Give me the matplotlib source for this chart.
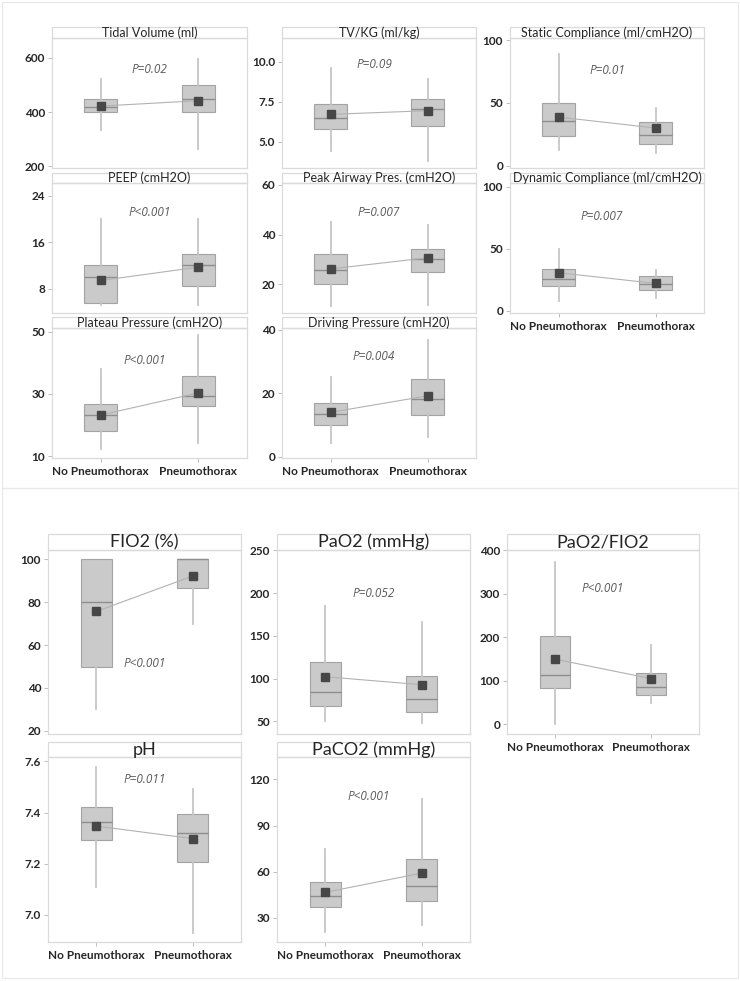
import matplotlib
matplotlib.use('Agg')
import matplotlib.pyplot as plt
import matplotlib.patches as mpatches

# ── Data (No Pneumothorax, Pneumothorax) ─────────────────
groups = ['No Pneumothorax', 'Pneumothorax']

titles = [
    'Tidal Volume (ml)', 'TV/KG (ml/kg)', 'Static Compliance (ml/cmH2O)',
    'PEEP (cmH2O)', 'Peak Airway Pres. (cmH2O)', 'Dynamic Compliance (ml/cmH2O)',
    'Plateau Pressure (cmH2O)', 'Driving Pressure (cmH20)',
    'FIO2 (%)', 'PaO2 (mmHg)', 'PaO2/FIO2', 'pH', 'PaCO2 (mmHg)',
]
p_labels = ['P=0.02', 'P=0.09', 'P=0.01', 'P<0.001', 'P=0.007', 'P=0.007',
            'P<0.001', 'P=0.004', 'P<0.001', 'P=0.052', 'P<0.001', 'P=0.011', 'P<0.001']

whisker_lo = [(332, 262), (4.4, 3.8), (12.4, 9.8), (5.1, 5.1), (11, 11.7), (8.1, 10),
              (12.2, 14.2), (4.2, 6.3), (30, 70), (50.8, 47.7), (0, 47.5),
              (7.11, 6.93), (20.5, 25.3)]
q1 = [(400, 400), (5.8, 6.0), (24, 17), (5.6, 8.5), (20, 25), (20, 16.5),
      (18.1, 26.1), (10, 13.2), (50, 86.7), (67.7, 61.6), (82, 67.7),
      (7.292, 7.205), (36.8, 40.8)]
median = [(420, 450), (6.5, 7.05), (35.5, 24.7), (10, 12), (25.5, 30), (25.8, 21.5),
          (23.1, 29.2), (13.6, 18.1), (80, 100), (84.8, 76.2), (114, 84.8),
          (7.364, 7.32), (44.4, 50.6)]
q3 = [(450, 500), (7.33, 7.65), (50, 35), (12, 14), (32, 34), (33.5, 28),
      (26.9, 35.6), (17, 24.5), (100, 100), (119.5, 103.5), (203, 118.4),
      (7.42, 7.395), (53.1, 68.4)]
whisker_hi = [(521, 598), (9.6, 8.9), (88.7, 45.7), (20, 20), (45, 43.8), (50, 33),
              (38.1, 48.8), (25, 36.9), (100, 100), (184.8, 165.8), (373, 181.6),
              (7.577, 7.49), (75.1, 107.6)]
means = [(422, 442), (6.71, 6.94), (38.7, 30), (9.4, 11.7), (26.1, 30.6), (30.6, 22),
         (23.2, 30.3), (14, 19.2), (75.6, 92.1), (102.3, 92.9), (149.5, 104.6),
         (7.347, 7.298), (46.6, 59.1)]
y_ticks = [[200, 400, 600], [5.0, 7.5, 10.0], [0, 50, 100], [8, 16, 24], [20, 40, 60],
           [0, 50, 100], [10, 30, 50], [0, 20, 40], [20, 40, 60, 80, 100],
           [50, 100, 150, 200, 250], [0, 100, 200, 300, 400], [7.0, 7.2, 7.4, 7.6],
           [30, 60, 90, 120]]
y_fmt = ['%d', '%.1f', '%d', '%d', '%d', '%d', '%d', '%d', '%d', '%d', '%d', '%.1f', '%d']

# ── Layout (pixels) ──────────────────────────────────────
W, H = 740, 981
# (x0, header_top, data_top, x1, bottom, ylim, p_xy, show_xlabels, big)
layout = [
    (52, 27, 38, 247, 168, (193, 674), (1.5, 556), False, False),
    (282, 27, 38, 476, 168, (3.36, 11.48), (1.45, 9.8), False, False),
    (510, 27, 38, 704, 168, (-1.8, 101.6), (1.5, 75.5), False, False),
    (52, 173, 183, 247, 313, (3.8, 26.2), (1.5, 21.1), False, False),
    (282, 173, 183, 476, 313, (8.3, 60.8), (1.5, 48.9), False, False),
    (510, 173, 183, 704, 313, (-1.9, 103), (1.45, 75.8), True, False),
    (52, 317, 328, 247, 458, (9.36, 51.2), (1.45, 40.7), True, False),
    (282, 317, 328, 476, 458, (-0.4, 40.6), (1.45, 31.7), True, False),
    (48, 534, 550, 241, 734, (18.6, 104.2), (1.5, 51.3), False, True),
    (277, 534, 550, 470, 734, (35.3, 250.5), (1.5, 200), False, True),
    (507, 534, 550, 699, 734, (-23, 401), (1.5, 312.5), True, True),
    (48, 742, 757, 241, 942, (6.894, 7.617), (1.5, 7.53), True, True),
    (277, 742, 757, 470, 942, (14.3, 134.6), (1.45, 109), True, True),
]

FONT = ['Lato', 'DejaVu Sans']
plt.rcParams['font.family'] = FONT

BOX_FACE = '#CACACA'
BOX_EDGE = '#A3A3A3'
MED_COL = '#8E8E8E'
WHISK_COL = '#C6C6C6'
MEAN_COL = '#474747'
LINE_COL = '#B2B2B2'
FRAME_COL = '#DADADA'
TEXT_COL = '#262626'

fig = plt.figure(figsize=(W / 100, H / 100), dpi=100)
fig.patch.set_facecolor('white')

# panel borders
for (x0, y0, x1, y1) in [(2, 2, 738, 488), (2, 488, 738, 978)]:
    fig.add_artist(mpatches.Rectangle((x0 / W, 1 - y1 / H), (x1 - x0) / W, (y1 - y0) / H,
                                      transform=fig.transFigure, fill=False,
                                      edgecolor='#E8E8E8', linewidth=0.8))

for i, (x0, ht, dt, x1, yb, ylim, pxy, show_x, big) in enumerate(layout):
    ax = fig.add_axes([x0 / W, 1 - yb / H, (x1 - x0) / W, (yb - dt) / H])
    stats = []
    for g in range(2):
        stats.append({
            'whislo': whisker_lo[i][g], 'q1': q1[i][g], 'med': median[i][g],
            'q3': q3[i][g], 'whishi': whisker_hi[i][g], 'mean': means[i][g],
        })
    ax.bxp(stats, positions=[1, 2], widths=0.34 if not big else 0.32,
           showcaps=False, showfliers=False, showmeans=False, patch_artist=True,
           boxprops=dict(facecolor=BOX_FACE, edgecolor=BOX_EDGE, linewidth=0.8),
           medianprops=dict(color=MED_COL, linewidth=1.0),
           whiskerprops=dict(color=WHISK_COL, linewidth=1.3))
    ax.plot([1, 2], means[i], color=LINE_COL, linewidth=0.8, zorder=4)
    ax.plot([1, 2], means[i], linestyle='none', marker='s', markersize=5.2,
            color=MEAN_COL, zorder=5)

    ax.set_xlim(0.5, 2.5)
    ax.set_ylim(*ylim)
    ax.set_yticks(y_ticks[i])
    ax.set_yticklabels([y_fmt[i] % v for v in y_ticks[i]])
    for s in ax.spines.values():
        s.set_color(FRAME_COL)
        s.set_linewidth(0.9)
    ax.tick_params(axis='y', length=3, width=0.7, color='#BDBDBD', pad=2,
                   labelsize=8.5, labelcolor=TEXT_COL)
    for lab in ax.get_yticklabels():
        lab.set_fontweight('bold')
    ax.set_xticks([1, 2])
    if show_x:
        ax.set_xticklabels(groups, fontsize=8.5, fontweight='bold', color=TEXT_COL)
        ax.tick_params(axis='x', length=3, width=0.7, color='#BDBDBD', pad=3)
    else:
        ax.set_xticklabels([])
        ax.tick_params(axis='x', length=0)

    # header strip
    hfrac = (dt - ht) / (yb - dt)
    ax.add_patch(mpatches.Rectangle((0, 1), 1, hfrac, transform=ax.transAxes,
                                    facecolor='white', edgecolor=FRAME_COL,
                                    linewidth=0.9, clip_on=False))
    ax.text(0.5, 1 + hfrac / 2, titles[i], transform=ax.transAxes,
            ha='center', va='center', fontsize=13 if big else 9, color=TEXT_COL)

    ax.text(pxy[0], pxy[1], p_labels[i], ha='center', va='center',
            fontsize=8.5, style='italic', color='#5A5A5A',
            family=['Open Sans', 'DejaVu Sans'])

plt.savefig('out.png', dpi=100, facecolor='white')
